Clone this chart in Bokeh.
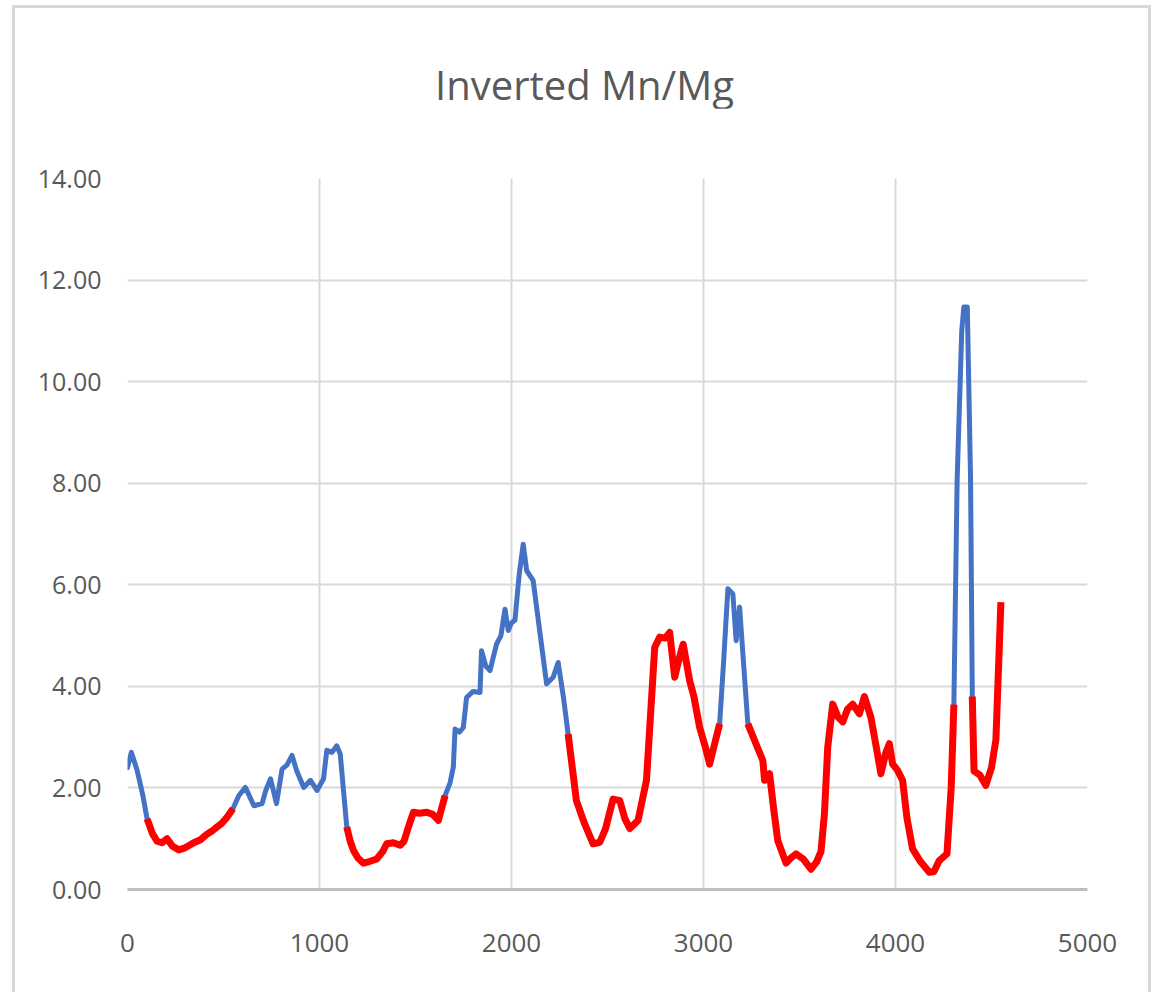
from bokeh.plotting import figure
from bokeh.models import Range1d, FixedTicker, NumeralTickFormatter, Div
from bokeh.layouts import column
from bokeh.embed import file_html
from bokeh.resources import INLINE

title_text = "Inverted Mn/Mg"
x_ticks = [0, 1000, 2000, 3000, 4000, 5000]
y_ticks = [0, 2, 4, 6, 8, 10, 12, 14]

# Blue segments (depth, value)
blue_x = [
    [0, 20, 50, 80, 102],
    [549, 580, 614, 640, 658, 701, 720, 745, 776, 805, 830, 857, 880, 918, 953, 987, 1021, 1038, 1065, 1090, 1108, 1142],
    [1654, 1680, 1697, 1706, 1730, 1749, 1766, 1800, 1836, 1844, 1866, 1888, 1922, 1945, 1966, 1983, 2000, 2018, 2040, 2061, 2079, 2113, 2150, 2183, 2217, 2243, 2270, 2295],
    [3084, 3105, 3127, 3153, 3170, 3188, 3231],
    [4304, 4321, 4345, 4356, 4374, 4391, 4400],
]
blue_y = [
    [2.40, 2.70, 2.35, 1.85, 1.39],
    [1.59, 1.85, 2.01, 1.80, 1.65, 1.69, 1.95, 2.18, 1.69, 2.37, 2.45, 2.64, 2.35, 2.01, 2.15, 1.95, 2.18, 2.74, 2.70, 2.83, 2.67, 1.23],
    [1.85, 2.10, 2.41, 3.16, 3.10, 3.19, 3.78, 3.90, 3.88, 4.70, 4.40, 4.31, 4.83, 5.00, 5.52, 5.10, 5.25, 5.30, 6.20, 6.80, 6.28, 6.08, 5.00, 4.05, 4.18, 4.47, 3.80, 3.06],
    [3.26, 4.50, 5.92, 5.82, 4.90, 5.56, 3.26],
    [3.64, 8.06, 11.00, 11.47, 11.47, 8.06, 3.80],
]

# Red segments (depth, value)
red_x = [
    [102, 130, 154, 180, 206, 235, 267, 300, 345, 380, 414, 440, 466, 490, 518, 549],
    [1142, 1160, 1177, 1200, 1229, 1260, 1298, 1330, 1350, 1385, 1420, 1440, 1463, 1489, 1520, 1559, 1590, 1619, 1654],
    [2295, 2338, 2380, 2425, 2460, 2490, 2529, 2564, 2590, 2616, 2659, 2703, 2746, 2772, 2800, 2824, 2850, 2870, 2894, 2928, 2950, 2980, 3010, 3032, 3060, 3084],
    [3231, 3270, 3309, 3318, 3344, 3365, 3387, 3430, 3455, 3482, 3520, 3560, 3590, 3612, 3630, 3647, 3673, 3700, 3725, 3750, 3777, 3812, 3838, 3872, 3900, 3924, 3950, 3968, 3985, 4010, 4037, 4060, 4089, 4130, 4176, 4200, 4228, 4268, 4290, 4304],
    [4400, 4409, 4440, 4470, 4500, 4523, 4549],
]
red_y = [
    [1.39, 1.10, 0.95, 0.92, 1.00, 0.85, 0.78, 0.82, 0.92, 0.98, 1.09, 1.15, 1.23, 1.30, 1.42, 1.59],
    [1.23, 0.95, 0.77, 0.62, 0.52, 0.55, 0.60, 0.75, 0.90, 0.92, 0.87, 0.95, 1.23, 1.52, 1.50, 1.52, 1.48, 1.36, 1.85],
    [3.06, 1.75, 1.30, 0.90, 0.93, 1.20, 1.78, 1.75, 1.40, 1.20, 1.36, 2.15, 4.77, 4.97, 4.95, 5.06, 4.18, 4.50, 4.83, 4.11, 3.80, 3.19, 2.80, 2.47, 2.90, 3.26],
    [3.26, 2.90, 2.54, 2.15, 2.28, 1.60, 0.96, 0.52, 0.62, 0.70, 0.60, 0.40, 0.55, 0.75, 1.50, 2.80, 3.65, 3.40, 3.30, 3.55, 3.65, 3.46, 3.80, 3.39, 2.80, 2.28, 2.70, 2.87, 2.47, 2.35, 2.15, 1.40, 0.80, 0.55, 0.34, 0.35, 0.57, 0.70, 2.00, 3.64],
    [3.80, 2.33, 2.25, 2.05, 2.40, 2.95, 5.66],
]

TEXT = "#595959"
GRID = "#d9d9d9"

title_div = Div(
    text=('<div style="margin-top:48px; padding-left:420px; font-family:\'Open Sans\'; '
          'font-size:40px; color:#595959; white-space:nowrap;">' + title_text + '</div>'),
    width=1133, height=100, margin=(0, 0, 0, 0),
)

p = figure(
    width=1133, height=884,
    x_range=Range1d(0, 5000), y_range=Range1d(0, 14),
    output_backend="svg", toolbar_location=None,
    min_border_left=112, min_border_right=61,
    min_border_top=70, min_border_bottom=103,
    background_fill_color="white", border_fill_color="white",
    margin=(0, 0, 0, 0),
)
p.outline_line_color = None

p.xaxis.ticker = FixedTicker(ticks=x_ticks)
p.yaxis.ticker = FixedTicker(ticks=y_ticks)
p.yaxis.formatter = NumeralTickFormatter(format="0.00")
for ax in (p.xaxis, p.yaxis):
    ax.major_tick_line_color = None
    ax.minor_tick_line_color = None
    ax.major_label_text_color = TEXT
    ax.major_label_text_font = "Open Sans"
p.xaxis.major_label_text_font_size = "26px"
p.yaxis.major_label_text_font_size = "25px"
p.xaxis.axis_line_color = "#bfbfbf"
p.xaxis.axis_line_width = 3
p.yaxis.axis_line_color = None
p.xaxis.major_label_standoff = 38
p.yaxis.major_label_standoff = 20

p.xgrid.ticker = FixedTicker(ticks=x_ticks)
p.ygrid.ticker = FixedTicker(ticks=y_ticks)
p.xgrid.grid_line_color = GRID
p.ygrid.grid_line_color = GRID
p.xgrid.grid_line_width = 2
p.ygrid.grid_line_width = 2

p.multi_line(blue_x, blue_y, line_color="#4472C4", line_width=5, line_join="round", line_cap="round")
p.multi_line(red_x, red_y, line_color="#FF0000", line_width=7, line_join="round", line_cap="butt")

layout = column(title_div, p, spacing=0)
layout.styles = {"border-top": "3px solid #d9d9d9", "border-left": "3px solid #d9d9d9",
                 "border-right": "3px solid #d9d9d9", "margin-left": "12px", "margin-top": "5px",
                 "background-color": "white"}

open("out.html", "w").write(file_html(layout, INLINE))
